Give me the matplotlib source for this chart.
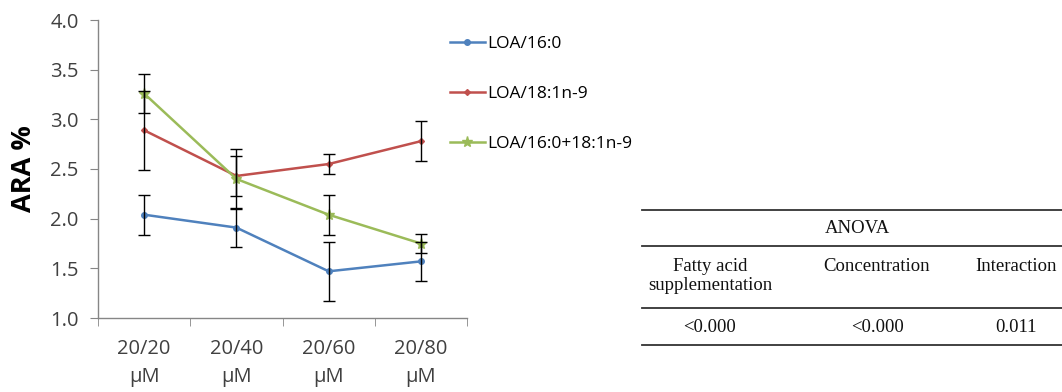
import matplotlib.pyplot as plt
from matplotlib.lines import Line2D

# Concentration groups (x axis)
categorias = ["20/20\nμM", "20/40\nμM", "20/60\nμM", "20/80\nμM"]

# ARA % for each supplementation and its error
loa_16 = [2.04, 1.91, 1.47, 1.57]
loa_16_err = [0.20, 0.20, 0.30, 0.20]
loa_18 = [2.89, 2.43, 2.55, 2.78]
loa_18_err = [0.40, 0.20, 0.10, 0.20]
loa_mix = [3.26, 2.40, 2.04, 1.75]
loa_mix_err = [0.20, 0.30, 0.20, 0.10]

series = ["LOA/16:0", "LOA/18:1n-9", "LOA/16:0+18:1n-9"]

# ANOVA table
anova_titulo = "ANOVA"
anova_colunas = ["Fatty acid\nsupplementation", "Concentration", "Interaction"]
anova_valores = ["<0.000", "<0.000", "0.011"]

plt.rcParams["font.family"] = ["Open Sans", "DejaVu Sans"]

fig = plt.figure(figsize=(10.62, 3.92), dpi=100)
ax = fig.add_axes([98 / 1062, 1 - 318 / 392, (467 - 98) / 1062, (318 - 20) / 392])

x = list(range(len(categorias)))
dados = [
    (loa_16, loa_16_err, "#4F81BD", "o", 4),
    (loa_18, loa_18_err, "#C0504D", "D", 3),
    (loa_mix, loa_mix_err, "#9BBB59", "*", 8),
]
handles = []
for (y, e, cor, mk, ms), nome in zip(dados, series):
    ax.plot(x, y, color=cor, lw=1.8, marker=mk, ms=ms, zorder=2)
    ax.errorbar(x, y, yerr=e, fmt="none", ecolor="black", elinewidth=1,
                capsize=4, capthick=1, zorder=3)
    handles.append(Line2D([], [], color=cor, lw=1.8, marker=mk, ms=ms, label=nome))

ax.set_xlim(-0.5, 3.5)
ax.set_ylim(1.0, 4.0)
ax.set_yticks([1.0, 1.5, 2.0, 2.5, 3.0, 3.5, 4.0])
ax.set_yticklabels([f"{v:.1f}" for v in ax.get_yticks()])
ax.set_xticks(x)
ax.set_xticklabels(categorias, linespacing=1.55)
ax.set_xticks([-0.5, 0.5, 1.5, 2.5, 3.5], minor=True)
ax.tick_params(axis="x", which="major", length=0, pad=15, labelsize=14.5,
               labelcolor="#404040")
ax.tick_params(axis="x", which="minor", length=6, color="#868686", direction="out")
ax.tick_params(axis="y", length=6, color="#868686", pad=8, labelsize=14.5,
               labelcolor="#404040")

for lado in ["top", "right"]:
    ax.spines[lado].set_visible(False)
for lado in ["left", "bottom"]:
    ax.spines[lado].set_color("#868686")
    ax.spines[lado].set_linewidth(1)

ax.set_ylabel("ARA %", fontsize=19.5, fontweight="bold", color="black")
ax.yaxis.set_label_coords(-0.165, 0.5)

fig.legend(handles=handles, loc="upper left", bbox_to_anchor=(450 / 1062, 1 - 36 / 392),
           frameon=False, fontsize=12.5, handlelength=2.0, handletextpad=0.15,
           labelspacing=1.95, borderpad=0, borderaxespad=0)

# ANOVA table drawn with figure coordinates
def fy(py):
    return 1 - py / 392

x0, x1 = 642 / 1062, 1.0
for py in [210, 246, 308, 345]:
    fig.add_artist(Line2D([x0, x1], [fy(py), fy(py)], color="#333333", lw=1.3))

serif = ["Liberation Serif", "DejaVu Serif"]
fig.text(857 / 1062, fy(229), anova_titulo, ha="center", va="center",
         fontsize=13.5, family=serif, color="#111111")
col_x = [710, 877, 1016]
for cx, nome, val in zip(col_x, anova_colunas, anova_valores):
    fig.text(cx / 1062, fy(258), nome, ha="center", va="top", fontsize=13.5,
             family=serif, color="#111111", linespacing=1.15)
    fig.text(cx / 1062, fy(327), val, ha="center", va="center", fontsize=13.5,
             family=serif, color="#111111")

fig.savefig("out.png", dpi=100, facecolor="white")
